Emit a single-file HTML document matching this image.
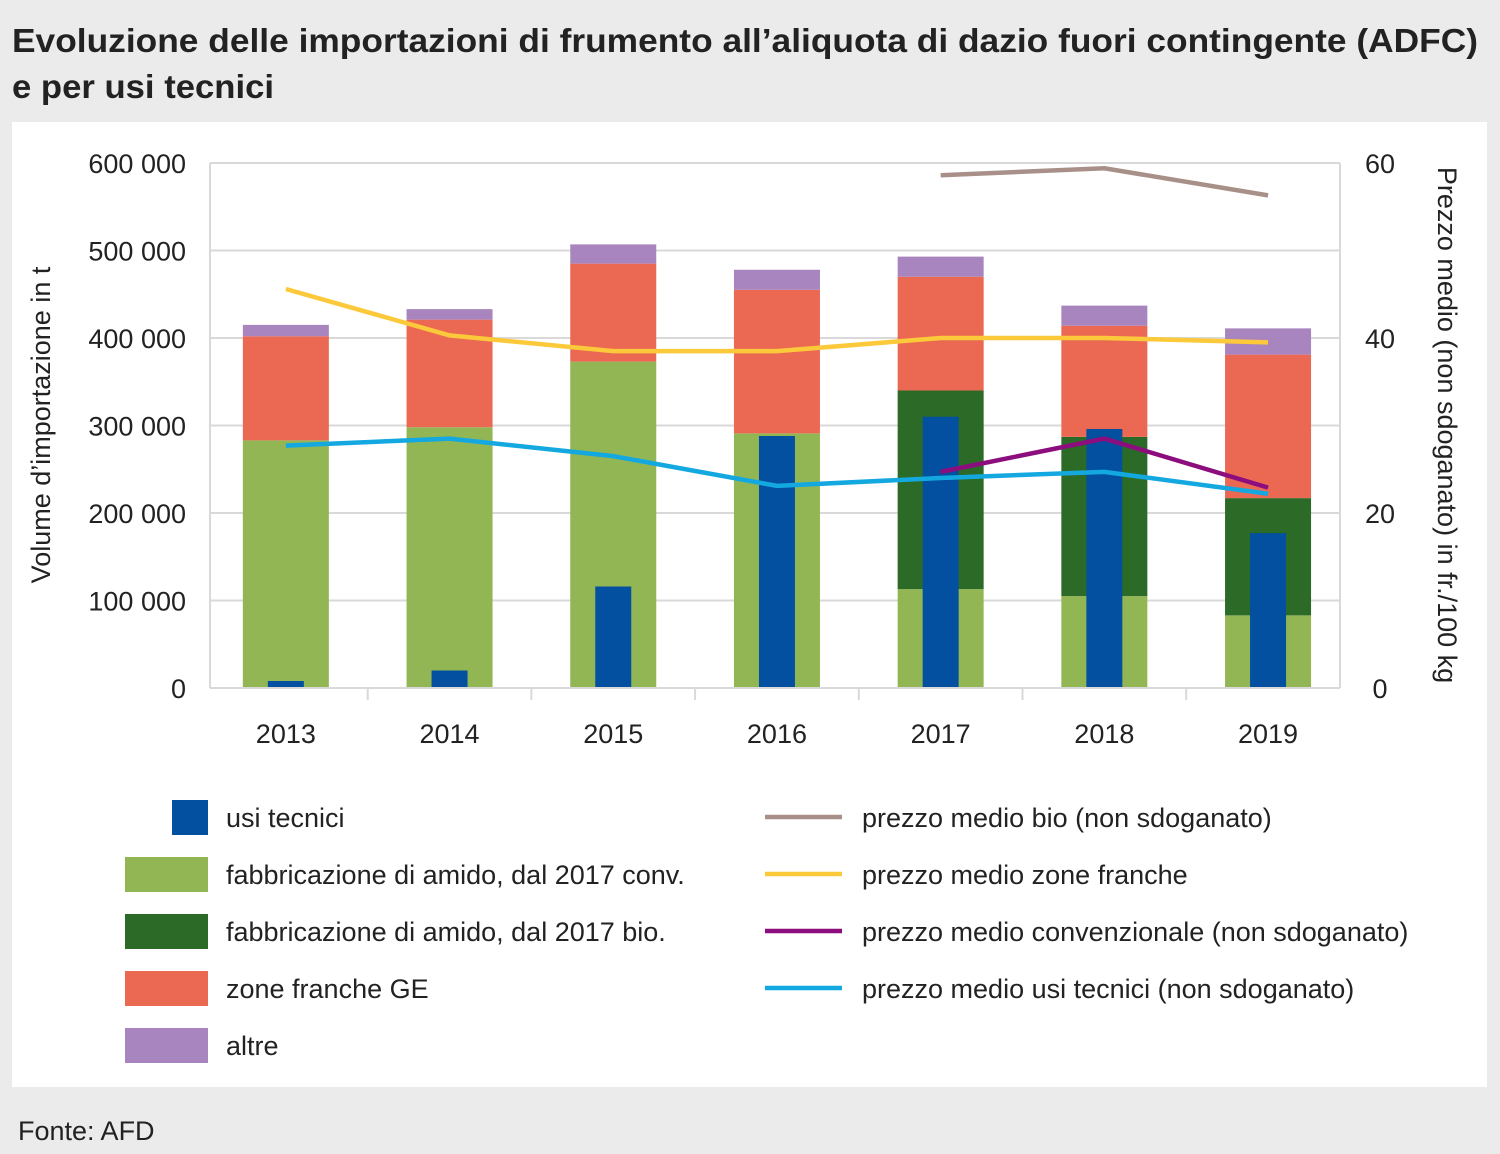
<!DOCTYPE html>
<html><head><meta charset="utf-8"><style>
body{margin:0;background:#ebebeb;}
svg{display:block;font-family:"Liberation Sans Narrow","Liberation Sans",sans-serif;}
</style></head><body>
<svg id="c" width="1500" height="1154" viewBox="0 0 1500 1154">
<rect x="0" y="0" width="1500" height="1154" fill="#ebebeb"/>
<text x="12" y="52" font-size="33" font-weight="bold" fill="#222" textLength="1466" lengthAdjust="spacingAndGlyphs">Evoluzione delle importazioni di frumento all’aliquota di dazio fuori contingente (ADFC)</text>
<text x="12" y="98" font-size="33" font-weight="bold" fill="#222" textLength="262" lengthAdjust="spacingAndGlyphs">e per usi tecnici</text>
<rect x="12" y="122" width="1475" height="965" fill="#fff"/>
<text x="18" y="1140" font-size="27" fill="#222">Fonte: AFD</text>
<g id="grid"></g><g id="bars"></g><g id="lines"></g><g id="axes"></g><g id="legend"></g>
</svg>
<script>
const years=["2013","2014","2015","2016","2017","2018","2019"];
const amidoConv=[283000,298000,373000,291000,113000,105000,83000];
const amidoBio=[0,0,0,0,227000,182000,134000];
const zoneFranche=[119000,123000,112000,164000,130000,127000,164000];
const altre=[13000,12000,22000,23000,23000,23000,30000];
const usiTecnici=[8000,20000,116000,288000,310000,296000,177000];
const prezzoBio=[null,null,null,null,58.6,59.4,56.3];
const prezzoZone=[45.6,40.3,38.5,38.5,40,40,39.5];
const prezzoConv=[null,null,null,null,24.7,28.5,22.9];
const prezzoUsi=[27.7,28.5,26.5,23.1,24,24.7,22.2];
const leftTicks=[0,100000,200000,300000,400000,500000,600000];
const rightTicks=[0,20,40,60];
const NS="http://www.w3.org/2000/svg";
const X0=210,X1=1340,Y0=688,Y1=163;
const band=163.7, C0=204;
const xc=i=>C0+band*(i+0.5);
const yL=v=>Y0-(v/600000)*(Y0-Y1);
const yR=v=>Y0-(v/60)*(Y0-Y1);
function mk(tag,attrs,parent,txt){const e=document.createElementNS(NS,tag);for(const k in attrs)e.setAttribute(k,attrs[k]);if(txt!==undefined)e.textContent=txt;document.getElementById(parent).appendChild(e);return e;}
const fmt=v=>v===0?"0":String(v).replace(/\B(?=(\d{3})+(?!\d))/g," ");
leftTicks.forEach(v=>{
 if(v>0){const l=mk('line',{x1:X0,x2:X1,y1:yL(v),y2:yL(v),stroke:'#d9d9d9','stroke-width':2},'grid');
 
 }
 const t=mk('text',{x:186,y:yL(v)+10,'font-size':27,'text-anchor':'end',fill:'#222'},'axes',fmt(v));
 
 
});
rightTicks.forEach(v=>{
 const t=mk('text',{x:1380,y:yR(v)+10,'font-size':27,'text-anchor':'middle',fill:'#222'},'axes',String(v));
 
 
});
[[X0,'y-left-axis'],[X1,'y-right-axis']].forEach(([x,n])=>{const l=mk('line',{x1:x,x2:x,y1:Y1,y2:Y0,stroke:'#d9d9d9','stroke-width':2},'grid');

});
const xa=mk('line',{x1:X0,x2:X1,y1:Y0,y2:Y0,stroke:'#d9d9d9','stroke-width':2},'axes');


for(let i=1;i<years.length;i++){const t=mk('line',{x1:C0+band*i,x2:C0+band*i,y1:Y0,y2:Y0+12,stroke:'#d9d9d9','stroke-width':2},'axes');

}
years.forEach((y,i)=>{const t=mk('text',{x:xc(i),y:743,'font-size':27,'text-anchor':'middle',fill:'#222'},'axes',y);

});
const lt=mk('text',{x:0,y:0,'font-size':27,'text-anchor':'middle',fill:'#222',transform:'translate(50,425) rotate(-90)'},'axes',"Volume d’importazione in t");


const rt=mk('text',{x:0,y:0,'font-size':27,'text-anchor':'middle',fill:'#222',transform:'translate(1438,425) rotate(90)'},'axes',"Prezzo medio (non sdoganato) in fr./100 kg");


const series=[[amidoConv,'#93b655','bar-amido-conv'],[amidoBio,'#2b6b27','bar-amido-bio'],[zoneFranche,'#eb6853','bar-zone-franche'],[altre,'#a885be','bar-altre']];
years.forEach((y,i)=>{let base=0;series.forEach(([arr,col,n])=>{const v=arr[i];if(v>0){const r=mk('rect',{x:xc(i)-43,width:86,y:yL(base+v),height:yL(base)-yL(base+v),fill:col},'bars');

}base+=v;});
const b=mk('rect',{x:xc(i)-18,width:36,y:yL(usiTecnici[i]),height:Y0-yL(usiTecnici[i]),fill:'#0350a0'},'bars');

});
[[prezzoBio,'#a89089','line-prezzo-bio'],[prezzoZone,'#fcc93a','line-prezzo-zone-franche'],[prezzoConv,'#8c0d7e','line-prezzo-convenzionale'],[prezzoUsi,'#14a8e0','line-prezzo-usi-tecnici']].forEach(([arr,col,n])=>{
 const pts=[];arr.forEach((v,i)=>{if(v!==null)pts.push(xc(i)+','+yR(v));});
 const p=mk('polyline',{points:pts.join(' '),fill:'none',stroke:col,'stroke-width':4.5},'lines');
 
 
});
const legL=[['usi tecnici','#0350a0',true],['fabbricazione di amido, dal 2017 conv.','#93b655'],['fabbricazione di amido, dal 2017 bio.','#2b6b27'],['zone franche GE','#eb6853'],['altre','#a885be']];
legL.forEach(([t,c,small],k)=>{const cy=817+57*k;
 const r=mk('rect',small?{x:172,y:cy-17,width:36,height:35,fill:c}:{x:125,y:cy-17,width:83,height:35,fill:c},'legend');
 
 
 const tx=mk('text',{x:226,y:cy+10,'font-size':27,fill:'#222'},'legend',t);
 
 });
const legR=[['prezzo medio bio (non sdoganato)','#a89089'],['prezzo medio zone franche','#fcc93a'],['prezzo medio convenzionale (non sdoganato)','#8c0d7e'],['prezzo medio usi tecnici (non sdoganato)','#14a8e0']];
legR.forEach(([t,c],k)=>{const cy=817+57*k;
 const l=mk('line',{x1:765,x2:842,y1:cy,y2:cy,stroke:c,'stroke-width':4.5},'legend');
 
 
 const tx=mk('text',{x:862,y:cy+10,'font-size':27,fill:'#222'},'legend',t);
 
 });
</script>
</body></html>
